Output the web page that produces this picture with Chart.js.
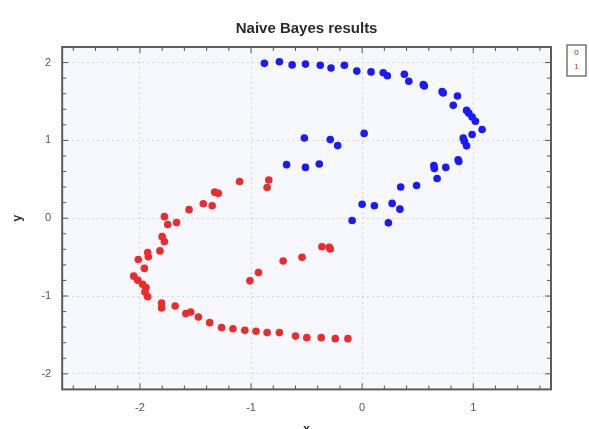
<!DOCTYPE html>
<html>
<head>
<meta charset="utf-8">
<script src="https://cdn.jsdelivr.net/npm/chart.js@4/dist/chart.umd.min.js"></script>
<style>
  html, body { margin: 0; padding: 0; background: #ffffff; }
  #wrap { width: 589px; height: 429px; }
</style>
</head>
<body>
<div id="wrap"><canvas id="nbChart"></canvas></div>
<script>
// class 0 (blue)
var class0X = [-0.88, -0.745, -0.63, -0.51, -0.377, -0.28, -0.16, -0.048, 0.08, 0.19, 0.227, 0.38, 0.42,
    0.55, 0.56, 0.72, 0.73, 0.858, 0.82, 0.94, 0.96, 0.99, 1.02, 1.08, 0.99, 0.91, 0.92, 0.94,
    0.864, 0.87, 0.646, 0.65, 0.753, 0.675, 0.347, 0.49, 0.0, 0.11, 0.27, 0.34, -0.09, 0.236,
    0.018, -0.52, -0.287, -0.22, -0.68, -0.51, -0.386];
var class0Y = [1.99, 2.01, 1.97, 1.98, 1.966, 1.93, 1.966, 1.89, 1.88, 1.87, 1.83, 1.85, 1.76,
    1.716, 1.70, 1.626, 1.61, 1.57, 1.45, 1.385, 1.35, 1.30, 1.246, 1.14, 1.075, 1.03, 0.99, 0.93,
    0.75, 0.73, 0.675, 0.64, 0.653, 0.51, 0.40, 0.42, 0.18, 0.16, 0.19, 0.116, -0.03, -0.06,
    1.09, 1.03, 1.01, 0.933, 0.688, 0.653, 0.697];

// class 1 (red)
var class1X = [-1.103, -0.84, -0.855, -1.327, -1.294, -1.43, -1.35, -1.558, -1.78, -1.75, -1.67,
    -1.80, -1.78, -1.82, -1.93, -1.925, -2.015, -1.96, -2.056, -2.02, -1.976, -1.946, -1.955, -1.93,
    -1.805, -1.805, -1.683, -1.587, -1.543, -1.474, -1.372, -1.265, -1.163, -1.056, -0.955, -0.855,
    -0.745, -0.60, -0.498, -0.368, -0.242, -0.128, -1.01, -0.933, -0.711, -0.541, -0.362, -0.296, -0.287];
var class1Y = [0.472, 0.49, 0.395, 0.335, 0.32, 0.185, 0.16, 0.11, 0.02, -0.08, -0.056,
    -0.237, -0.30, -0.42, -0.44, -0.495, -0.53, -0.645, -0.745, -0.796, -0.848, -0.89, -0.947, -1.01,
    -1.09, -1.153, -1.128, -1.226, -1.205, -1.27, -1.342, -1.406, -1.42, -1.44, -1.452, -1.47,
    -1.47, -1.515, -1.535, -1.535, -1.548, -1.548, -0.805, -0.697, -0.55, -0.503, -0.366, -0.374, -0.396];

var seriesLabels = ['0', '1'];
var seriesColors = ['#1a1aff', '#ec2c2c'];
var xMajorTicks = [-2, -1, 0, 1];
var yMajorTicks = [-2, -1, 0, 1, 2];

function toPoints(xs, ys) {
    var pts = [];
    for (var i = 0; i < xs.length; i++) {
        pts.push({ x: xs[i], y: ys[i] });
    }
    return pts;
}

// plot background, frame, inward ticks on every side, boxed legend
var framePlugin = {
    id: 'frame',
    beforeDraw: function (chart) {
        var ctx = chart.ctx;
        var a = chart.chartArea;
        ctx.save();
        ctx.fillStyle = '#f7f7fe';
        ctx.fillRect(a.left, a.top, a.right - a.left, a.bottom - a.top);
        ctx.restore();
    },
    afterDraw: function (chart) {
        var ctx = chart.ctx;
        var a = chart.chartArea;
        var xs = chart.scales.x;
        var ys = chart.scales.y;
        ctx.save();
        ctx.strokeStyle = '#555';
        ctx.lineWidth = 1;
        // minor ticks every 0.2
        for (var i = -14; i <= 9; i++) {
            var px = xs.getPixelForValue(i / 5);
            if (px <= a.left + 1 || px >= a.right - 1) continue;
            var len = (i % 5 === 0) ? 6 : 4;
            ctx.beginPath();
            ctx.moveTo(px, a.bottom); ctx.lineTo(px, a.bottom - len);
            ctx.moveTo(px, a.top); ctx.lineTo(px, a.top + len);
            ctx.stroke();
        }
        for (var j = -11; j <= 11; j++) {
            var py = ys.getPixelForValue(j / 5);
            if (py <= a.top + 1 || py >= a.bottom - 1) continue;
            var len2 = (j % 5 === 0) ? 6 : 4;
            ctx.beginPath();
            ctx.moveTo(a.left, py); ctx.lineTo(a.left + len2, py);
            ctx.moveTo(a.right, py); ctx.lineTo(a.right - len2, py);
            ctx.stroke();
        }
        ctx.strokeStyle = '#5c5c5c';
        ctx.lineWidth = 2;
        ctx.strokeRect(a.left, a.top, a.right - a.left, a.bottom - a.top);

        // legend box
        var lx = a.right + 16, ly = a.top - 2, lw = 19, lh = 31;
        ctx.fillStyle = '#ffffff';
        ctx.fillRect(lx, ly, lw, lh);
        ctx.strokeStyle = '#777';
        ctx.lineWidth = 1.5;
        ctx.strokeRect(lx, ly, lw, lh);
        ctx.font = '8px "Liberation Sans", Arial, sans-serif';
        ctx.textAlign = 'center';
        ctx.textBaseline = 'middle';
        chart.data.datasets.forEach(function (ds, k) {
            ctx.fillStyle = ds.backgroundColor;
            ctx.fillText(ds.label, lx + lw / 2, ly + 8 + k * 14);
        });
        ctx.restore();
    }
};

var ctx = document.getElementById('nbChart').getContext('2d');
var nbChart = new Chart(ctx, {
    type: 'scatter',
    data: {
        datasets: [
            {
                label: seriesLabels[0],
                data: toPoints(class0X, class0Y),
                backgroundColor: seriesColors[0],
                borderColor: seriesColors[0],
                pointRadius: 3.8,
                borderWidth: 0
            },
            {
                label: seriesLabels[1],
                data: toPoints(class1X, class1Y),
                backgroundColor: seriesColors[1],
                borderColor: seriesColors[1],
                pointRadius: 3.8,
                borderWidth: 0
            }
        ]
    },
    options: {
        responsive: true,
        maintainAspectRatio: false,
        animation: false,
        layout: { padding: { left: 10, right: 38, top: 0, bottom: -8 } },
        plugins: {
            legend: { display: false },
            tooltip: { enabled: false },
            title: {
                display: true,
                fullSize: false,
                text: 'Naive Bayes results',
                color: '#2a2a2a',
                font: { family: '"Liberation Sans", Arial, sans-serif', size: 15, weight: 'bold', lineHeight: 1.2 },
                padding: { top: 20, bottom: 9 }
            }
        },
        scales: {
            x: {
                type: 'linear',
                min: -2.7,
                max: 1.7,
                afterBuildTicks: function (scale) {
                    scale.ticks = xMajorTicks.map(function (v) { return { value: v }; });
                },
                grid: { color: '#d4d4dc', drawTicks: false, lineWidth: 1 },
                border: { display: false, dash: [2, 3] },
                ticks: {
                    color: '#555',
                    padding: 12,
                    font: { family: '"Liberation Sans", Arial, sans-serif', size: 11 }
                },
                title: {
                    display: true,
                    text: 'x',
                    color: '#333',
                    font: { family: '"Liberation Sans", Arial, sans-serif', size: 12, weight: 'bold' },
                    padding: { top: -4, bottom: 0 }
                }
            },
            y: {
                type: 'linear',
                min: -2.2,
                max: 2.2,
                afterBuildTicks: function (scale) {
                    scale.ticks = yMajorTicks.map(function (v) { return { value: v }; });
                },
                grid: { color: '#d4d4dc', drawTicks: false, lineWidth: 1 },
                border: { display: false, dash: [2, 3] },
                ticks: {
                    color: '#555',
                    padding: 11,
                    font: { family: '"Liberation Sans", Arial, sans-serif', size: 11 }
                },
                title: {
                    display: true,
                    text: 'y',
                    color: '#333',
                    font: { family: '"Liberation Sans", Arial, sans-serif', size: 12, weight: 'bold' },
                    padding: { top: 0, bottom: 6 }
                }
            }
        }
    },
    plugins: [framePlugin]
});
</script>
</body>
</html>
